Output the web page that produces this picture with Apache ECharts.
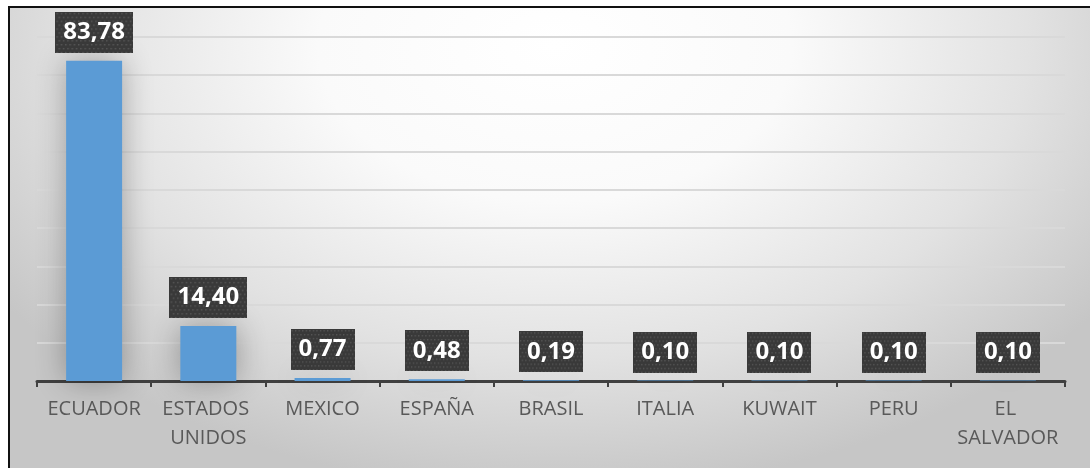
<!DOCTYPE html>
<html>
<head>
<meta charset="utf-8">
<script src="https://cdn.jsdelivr.net/npm/echarts@6/dist/echarts.min.js"></script>
<style>
  html, body { margin: 0; padding: 0; background: #ffffff; }
  body { width: 1090px; height: 468px; overflow: hidden; position: relative; }
  #frame {
    position: absolute; left: 8px; top: 6px;
    border-left: 2px solid #111; border-top: 2px solid #111;
    width: 1090px; height: 470px;
    background: radial-gradient(ellipse 62% 95% at 50% 8%, #ffffff 0%, #fafafa 35%, #e2e2e2 70%, #c6c6c6 100%);
  }
  #chart { position: absolute; left: 0; top: 0; width: 1080px; height: 460px; }
</style>
</head>
<body>
<div id="frame"><div id="chart"></div></div>
<script>
// Países de origen y su porcentaje
const countries = ['ECUADOR', 'ESTADOS UNIDOS', 'MEXICO', 'ESPAÑA', 'BRASIL', 'ITALIA', 'KUWAIT', 'PERU', 'EL SALVADOR'];
const shares = [83.78, 14.40, 0.77, 0.48, 0.19, 0.10, 0.10, 0.10, 0.10];
const yTicks = [0, 10, 20, 30, 40, 50, 60, 70, 80, 90];

const fmt = v => v.toFixed(2).replace('.', ',');

// Dark dotted fill for the value boxes
function dottedTile(w, h) {
  const c = document.createElement('canvas');
  c.width = w; c.height = h;
  const g = c.getContext('2d');
  g.fillStyle = '#393939';
  g.fillRect(0, 0, w, h);
  g.fillStyle = '#565656';
  for (let y = 1; y < h; y += 4) {
    for (let x = ((y - 1) / 4) % 2 ? 3 : 1; x < w; x += 4) {
      g.fillRect(x, y, 1.5, 1.5);
    }
  }
  return c;
}
const boxFill = dottedTile(72, 42);

const chart = echarts.init(document.getElementById('chart'), null, { renderer: 'canvas' });
chart.setOption({
  backgroundColor: 'transparent',
  animation: false,
  grid: { left: 27, right: 25, top: 29, bottom: 87 },
  xAxis: {
    type: 'category',
    data: countries,
    boundaryGap: true,
    axisLine: { show: true, lineStyle: { color: '#404040', width: 3 } },
    axisTick: { show: true, length: 6, lineStyle: { color: '#404040', width: 2 } },
    axisLabel: {
      color: '#595959',
      fontFamily: 'Open Sans',
      fontSize: 20,
      lineHeight: 29,
      margin: 14,
      width: 112,
      overflow: 'break',
      interval: 0
    }
  },
  yAxis: {
    type: 'value',
    min: yTicks[0],
    max: yTicks[yTicks.length - 1],
    interval: yTicks[1] - yTicks[0],
    axisLine: { show: false },
    axisTick: { show: false },
    axisLabel: { show: false },
    splitLine: { show: true, lineStyle: { color: '#d9d9d9', width: 2 } }
  },
  series: [{
    type: 'bar',
    data: shares,
    barWidth: 56,
    itemStyle: {
      color: '#5b9bd5',
      shadowColor: 'rgba(0,0,0,0.3)',
      shadowBlur: 30
    },
    label: {
      show: true,
      position: 'top',
      distance: 8,
      formatter: p => fmt(p.value),
      color: '#ffffff',
      fontFamily: 'Open Sans',
      fontWeight: 'bold',
      fontSize: 24,
      lineHeight: 27,
      padding: [7, 8, 7, 8],
      backgroundColor: { image: boxFill },
      shadowColor: 'rgba(0,0,0,0.55)',
      shadowBlur: 5,
      shadowOffsetX: 3,
      shadowOffsetY: 3
    }
  }]
});
</script>
</body>
</html>
